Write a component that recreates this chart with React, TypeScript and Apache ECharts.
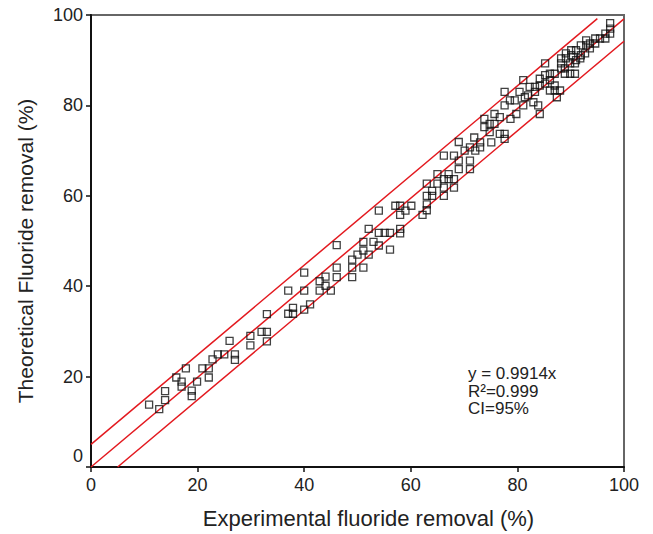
import React, { useEffect, useRef } from "react";
import * as echarts from "echarts";

// Experimental (x) vs theoretical (y) fluoride removal, %
const experimental: number[] = [
  10.9, 12.8, 13.9, 13.9, 16.0, 17.8, 17.0, 17.0, 18.9, 18.9, 19.9, 20.9, 22.1, 22.1, 22.8, 23.8, 25.0, 26.0, 27.0, 27.0,
  29.9, 29.9, 32.0, 33.0, 33.0, 33.0, 37.0, 37.0, 37.9, 37.9, 40.0, 40.0, 40.0, 41.1, 42.9, 42.9, 44.0, 44.0, 45.0, 46.1,
  46.1, 46.1, 49.0, 49.0, 49.0, 50.0, 51.1, 51.1, 52.1, 52.1, 51.1, 53.0, 54.0, 54.0, 54.0, 55.1, 56.1, 56.1, 57.1, 58.0,
  58.0, 58.0, 58.0, 59.0, 60.1, 62.2, 63.0, 63.0, 63.0, 63.0, 64.0, 64.0, 65.0, 65.0, 66.2, 66.2, 66.2, 67.1, 67.1, 68.1,
  68.1, 66.2, 68.1, 69.0, 69.0, 69.0, 70.1, 71.1, 71.1, 71.1, 72.1, 73.0, 73.0, 75.1, 71.9, 73.8, 73.8, 74.8, 74.8, 75.7,
  75.7, 76.7, 77.6, 77.6, 76.7, 78.7, 79.8, 77.6, 77.6, 78.6, 79.5, 80.4, 81.1, 82.0, 82.3, 83.3, 83.0, 83.9, 84.2, 84.2,
  81.1, 85.2, 87.4, 88.2, 88.2, 88.2, 89.1, 89.1, 90.1, 90.1, 91.0, 91.0, 91.9, 91.9, 92.9, 92.9, 87.0, 86.1, 85.2, 84.2,
  86.1, 85.2, 83.3, 81.4, 86.1, 87.0, 88.0, 87.0, 97.4, 97.4, 97.4, 96.5, 95.5, 96.5, 94.6, 93.6, 93.6, 92.7, 91.8, 90.8,
  89.9, 88.9, 88.9, 89.9, 90.8, 94.6,
];
const theoretical: number[] = [
  13.8, 12.8, 16.8, 14.8, 19.8, 21.8, 18.9, 17.8, 16.9, 15.7, 18.9, 21.8, 21.8, 19.8, 23.8, 24.9, 24.9, 27.9, 24.9, 23.7,
  29.0, 26.9, 29.9, 29.9, 33.8, 27.8, 39.0, 33.9, 35.2, 33.9, 43.0, 39.0, 34.8, 36.0, 41.1, 39.0, 42.1, 40.1, 39.0, 49.1,
  44.1, 42.0, 45.9, 44.1, 42.0, 47.0, 47.9, 44.1, 47.0, 52.7, 49.8, 49.8, 56.7, 51.8, 49.0, 51.8, 51.8, 48.1, 57.8, 57.8,
  55.8, 52.7, 51.7, 56.7, 57.8, 55.8, 56.8, 58.1, 60.0, 62.7, 60.0, 61.1, 64.8, 62.7, 60.0, 63.7, 61.8, 64.8, 63.7, 63.7,
  61.8, 68.9, 68.9, 67.8, 65.9, 71.9, 70.0, 67.8, 65.9, 70.7, 70.0, 71.8, 70.7, 71.8, 72.9, 77.0, 75.2, 75.9, 74.1, 78.1,
  75.9, 73.7, 73.7, 72.6, 77.4, 77.0, 78.1, 80.0, 83.0, 81.1, 81.1, 83.0, 80.0, 82.2, 84.1, 84.1, 80.7, 80.0, 78.1, 84.4,
  85.6, 89.3, 81.8, 90.4, 89.3, 88.2, 91.5, 90.4, 92.2, 91.1, 92.2, 90.0, 93.3, 91.1, 94.4, 93.3, 87.0, 87.0, 86.7, 85.9,
  85.6, 84.8, 83.0, 81.8, 83.3, 83.3, 83.3, 84.4, 98.2, 97.0, 95.9, 95.9, 94.8, 94.8, 93.7, 93.7, 92.6, 91.5, 90.4, 89.3,
  89.3, 88.2, 87.0, 87.0, 87.0, 94.8,
];

// Regression line y = 0.9914x and ±5 band (95% CI)
const slope = 0.9914;
const band = 5;
const fitX: number[] = [0, 100];
const upperX: number[] = [0, 95];
const lowerX: number[] = [5, 100];

const axisTicks: number[] = [0, 20, 40, 60, 80, 100];
const annotationLines: string[] = ["y = 0.9914x", "R²=0.999", "CI=95%"];

const FONT = "'Liberation Sans', Arial, Helvetica, sans-serif";

export default function App() {
  const ref = useRef<HTMLDivElement>(null);
  useEffect(() => {
    if (!ref.current) return;
    const chart = echarts.init(ref.current, undefined, { renderer: "svg" });
    const points = experimental.map((x, i) => [x, theoretical[i]]);
    const fit = fitX.map((x) => [x, slope * x]);
    const upper = upperX.map((x) => [x, slope * x + band]);
    const lower = lowerX.map((x) => [x, slope * (x - band)]);
    const lineStyle = { color: "#e3191f", width: 1.5 };
    chart.setOption({
      animation: false,
      backgroundColor: "#ffffff",
      grid: {
        left: 91,
        top: 15,
        width: 533,
        height: 452,
        show: true,
        borderColor: "#666",
        borderWidth: 2,
        backgroundColor: "transparent",
      },
      xAxis: {
        type: "value",
        min: axisTicks[0],
        max: axisTicks[axisTicks.length - 1],
        interval: 20,
        name: "Experimental fluoride removal (%)",
        nameLocation: "middle",
        nameGap: 40,
        nameTextStyle: { fontSize: 22, color: "#222", fontFamily: FONT, padding: [0, 0, 0, 22] },
        axisLine: { lineStyle: { color: "#111", width: 2 } },
        axisTick: { show: true, length: 5, lineStyle: { color: "#111", width: 1.5 } },
        axisLabel: { fontSize: 18, color: "#222", fontFamily: FONT, margin: 9 },
        splitLine: { show: false },
      },
      yAxis: {
        type: "value",
        min: axisTicks[0],
        max: axisTicks[axisTicks.length - 1],
        interval: 20,
        name: "Theoretical Fluoride removal (%)",
        nameLocation: "middle",
        nameGap: 55,
        nameTextStyle: { fontSize: 21, color: "#222", fontFamily: FONT, padding: [0, 20, 0, 0] },
        axisLine: { lineStyle: { color: "#111", width: 2 } },
        axisTick: { show: true, length: 5, lineStyle: { color: "#111", width: 1.5 } },
        axisLabel: {
          fontSize: 18,
          color: "#222",
          fontFamily: FONT,
          margin: 8,
          formatter: (v: number) => (v === 0 ? "{z|0}" : String(v)),
          rich: { z: { fontSize: 18, color: "#222", fontFamily: FONT, padding: [0, 0, 22, 0] } },
        },
        splitLine: { show: false },
      },
      graphic: annotationLines.map((t, i) => ({
        type: "text",
        left: 468,
        top: 365 + i * 17.5,
        style: { text: t, fontSize: 17, fontFamily: FONT, fill: "#222" },
      })),
      series: [
        { type: "line", data: upper, symbol: "none", lineStyle, silent: true, z: 1 },
        { type: "line", data: fit, symbol: "none", lineStyle, silent: true, z: 1 },
        { type: "line", data: lower, symbol: "none", lineStyle, silent: true, z: 1 },
        {
          type: "scatter",
          data: points,
          symbol: "rect",
          symbolSize: 7,
          itemStyle: { color: "rgba(0,0,0,0)", borderColor: "#111", borderWidth: 1.3 },
          z: 3,
        },
      ],
    });
    return () => chart.dispose();
  }, []);
  return <div ref={ref} style={{ position: "fixed", left: 0, top: 0, width: 653, height: 534 }} />;
}
